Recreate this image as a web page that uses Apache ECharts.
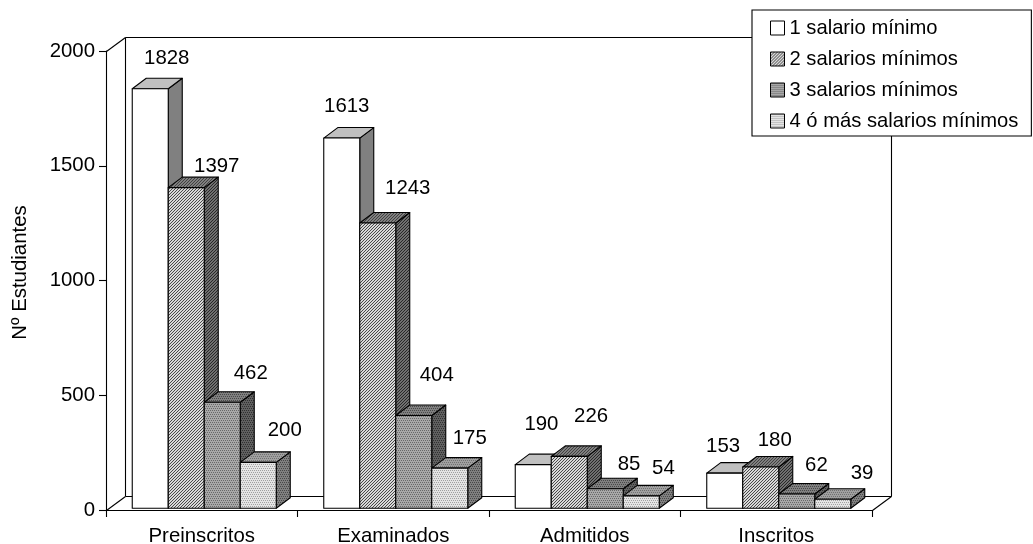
<!DOCTYPE html>
<html>
<head>
<meta charset="utf-8">
<style>html,body{margin:0;padding:0;background:#fff}#c{width:1033px;height:544px}</style>
<script src="https://cdn.jsdelivr.net/npm/echarts@6/dist/echarts.min.js"></script>
</head>
<body>
<div id="c"></div>
<script>
const categories = ['Preinscritos', 'Examinados', 'Admitidos', 'Inscritos'];
const seriesNames = ['1 salario mínimo', '2 salarios mínimos', '3 salarios mínimos', '4 ó más salarios mínimos'];
const salario1 = [1828, 1613, 190, 153];
const salario2 = [1397, 1243, 226, 180];
const salario3 = [462, 404, 85, 62];
const salario4 = [200, 175, 54, 39];
const allValues = [salario1, salario2, salario3, salario4];
// hand-placed data labels: offset from each bar's top centre
const labelOffsets = [
  [[16.5, -30], [5, -32], [8.2, -39.9], [-1.7, -26.4]],
  [[30.5, -21], [30, -34.2], [21.8, -39.6], [14, -26.2]],
  [[28.5, -28.5], [23, -39.8], [23.8, -24], [19.7, -28.3]],
  [[26.5, -31.6], [20, -29.3], [22.2, -27.4], [29.3, -26.2]]
];

const FONT = '"Liberation Sans", Arial, sans-serif';
const FS = 20.4;
const DEPTH_X = 19, DEPTH_Y = 14;         // wall depth
const BAR_DX = 14, BAR_DY = 10.5;         // bar depth
const BAR_FRAC = 36 / 191.5;

function tile(rows, colors) {
  const n = rows.length, m = rows[0].length;
  const cv = document.createElement('canvas');
  cv.width = m; cv.height = n;
  const ctx = cv.getContext('2d');
  rows.forEach((r, y) => { for (let x = 0; x < m; x++) { ctx.fillStyle = colors[r[x]]; ctx.fillRect(x, y, 1, 1); } });
  return { image: cv, repeat: 'repeat' };
}
const hatch = ['100', '001', '010'];
const dots = ['0101', '0000', '1010', '0000'];
const faces = [
  { front: '#ffffff', top: '#c0c0c0', side: '#808080' },
  { front: tile(hatch, ['#d8d8d8', '#484848']), top: tile(hatch, ['#808080', '#404040']), side: tile(hatch, ['#707070', '#282828']) },
  { front: tile(dots, ['#a8a8a8', '#686868']), top: tile(dots, ['#808080', '#484848']), side: tile(dots, ['#606060', '#303030']) },
  { front: tile(dots, ['#e4e4e4', '#a0a0a0']), top: tile(dots, ['#a0a0a0', '#707070']), side: tile(dots, ['#808080', '#484848']) }
];

function barSeries(s) {
  return {
    type: 'custom',
    name: seriesNames[s],
    coordinateSystem: 'cartesian2d',
    encode: { x: 0, y: 1 },
    z: 3 + s,
    silent: true,
    data: allValues[s].map((v, i) => [i, v]),
    renderItem(params, api) {
      const i = api.value(0), v = api.value(1);
      const band = api.size([1, 0])[0];
      const w = band * BAR_FRAC;
      const top = api.coord([i, v]);
      const base = api.coord([i, 0]);
      const x0 = top[0] + (s - 2) * w + (DEPTH_X - BAR_DX) / 2;
      const x1 = x0 + w;
      const yb = base[1] - (DEPTH_Y - BAR_DY) / 2;
      const yt = top[1] - (DEPTH_Y - BAR_DY) / 2;
      const f = faces[s];
      const stroke = { stroke: '#000', lineWidth: 1.1, lineJoin: 'round' };
      const off = labelOffsets[s][i];
      return {
        type: 'group',
        children: [
          { type: 'polygon', shape: { points: [[x1, yt], [x1 + BAR_DX, yt - BAR_DY], [x1 + BAR_DX, yb - BAR_DY], [x1, yb]] }, style: { fill: f.side, ...stroke } },
          { type: 'polygon', shape: { points: [[x0, yt], [x0 + BAR_DX, yt - BAR_DY], [x1 + BAR_DX, yt - BAR_DY], [x1, yt]] }, style: { fill: f.top, ...stroke } },
          { type: 'polygon', shape: { points: [[x0, yt], [x1, yt], [x1, yb], [x0, yb]] }, style: { fill: f.front, ...stroke } },
          { type: 'text', style: { text: String(v), x: (x0 + x1) / 2 + off[0], y: yt + off[1], align: 'center', verticalAlign: 'middle', fill: '#000', font: FS + 'px ' + FONT } }
        ]
      };
    }
  };
}

const wallSeries = {
  type: 'custom',
  coordinateSystem: 'cartesian2d',
  encode: { x: 0, y: 1 },
  z: 1,
  silent: true,
  data: [[0, 0]],
  renderItem(params) {
    const c = params.coordSys;
    const L = c.x + 0.5, R = c.x + c.width + 0.5, T = c.y + 0.5, B = c.y + c.height + 0.5;
    const line = (a, b) => ({ type: 'line', shape: { x1: a[0], y1: a[1], x2: b[0], y2: b[1] }, style: { stroke: '#000', lineWidth: 1.1 } });
    const bl = [L + DEPTH_X, B - DEPTH_Y], br = [R + DEPTH_X, B - DEPTH_Y];
    const tl = [L + DEPTH_X, T - DEPTH_Y], tr = [R + DEPTH_X, T - DEPTH_Y];
    return {
      type: 'group',
      children: [
        line(tl, tr), line(tr, br), line(bl, br), line(tl, bl),
        line([L, T], tl), line([L, B], bl), line([R, B], br)
      ]
    };
  }
};

const chart = echarts.init(document.getElementById('c'), null, { renderer: 'canvas' });
chart.setOption({
  animation: false,
  backgroundColor: '#fff',
  grid: { left: 106, top: 51, width: 766, height: 459, containLabel: false, outerBoundsMode: 'none' },
  xAxis: {
    type: 'category',
    data: categories,
    boundaryGap: true,
    axisLine: { show: true, lineStyle: { color: '#000', width: 1.1 } },
    axisTick: { show: true, alignWithLabel: false, length: 7, lineStyle: { color: '#000', width: 1.1 } },
    axisLabel: { color: '#000', fontFamily: FONT, fontSize: FS, margin: 16, interval: 0 },
    splitLine: { show: false }
  },
  yAxis: {
    type: 'value',
    min: 0, max: 2000, interval: 500,
    name: 'Nº Estudiantes',
    nameLocation: 'middle',
    nameGap: 76,
    nameRotate: 90,
    nameTextStyle: { color: '#000', fontFamily: FONT, fontSize: FS, padding: [0, 0, 0, 16] },
    axisLine: { show: true, lineStyle: { color: '#000', width: 1.1 } },
    axisTick: { show: true, length: 7, lineStyle: { color: '#000', width: 1.1 } },
    axisLabel: { color: '#000', fontFamily: FONT, fontSize: FS, margin: 11, formatter: v => String(v) },
    splitLine: { show: false }
  },
  legend: {
    orient: 'vertical',
    left: 752, top: 10,
    padding: [8, 13, 5, 18],
    backgroundColor: '#fff',
    borderColor: '#000',
    borderWidth: 1.1,
    borderRadius: 0,
    itemWidth: 14, itemHeight: 14,
    itemGap: 11,
    textStyle: { color: '#000', fontFamily: FONT, fontSize: 20.2 },
    align: 'left',
    selectedMode: false,
    z: 20,
    data: seriesNames.map((n, s) => ({
      name: n, icon: 'rect',
      itemStyle: { color: faces[s].front, borderColor: '#000', borderWidth: 1 }
    }))
  },
  series: [wallSeries, barSeries(0), barSeries(1), barSeries(2), barSeries(3)]
});
</script>
</body>
</html>
